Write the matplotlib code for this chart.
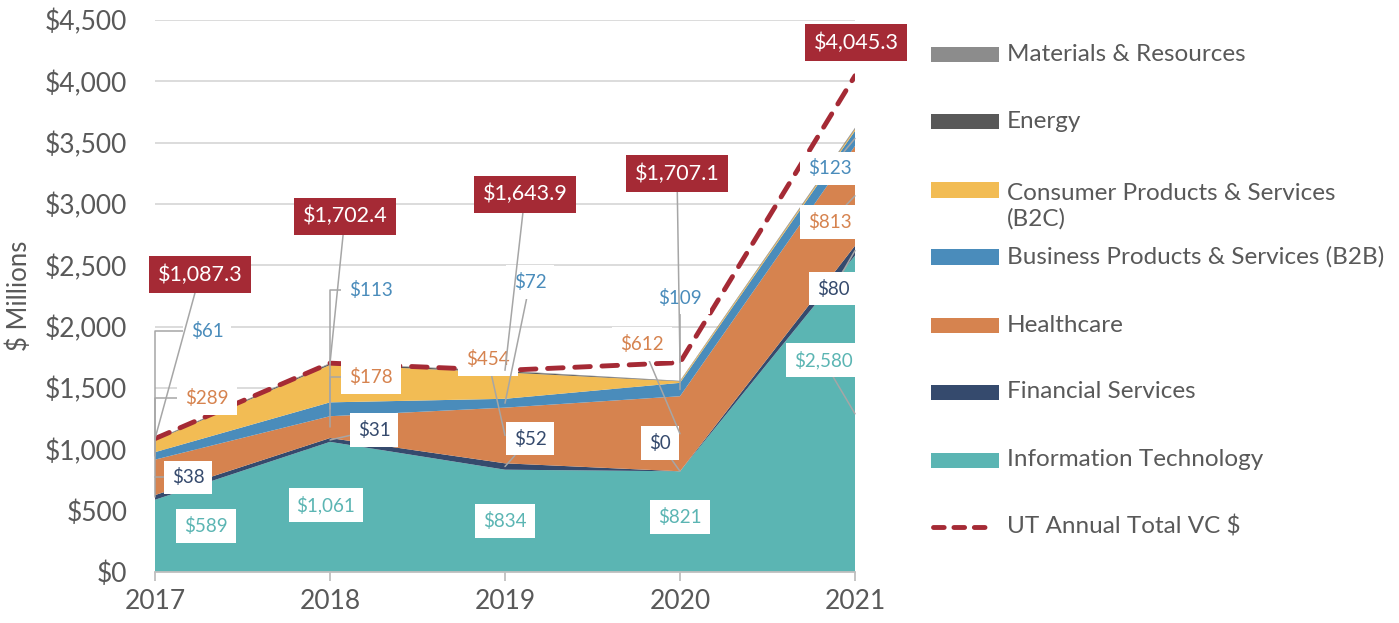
import matplotlib
matplotlib.use('Agg')
import matplotlib.pyplot as plt
from matplotlib.patches import Rectangle
from matplotlib.lines import Line2D

plt.rcParams['font.family'] = ['Lato', 'DejaVu Sans']

years = [2017, 2018, 2019, 2020, 2021]
info_tech = [589, 1061, 834, 821, 2580]
financial = [38, 31, 52, 0, 80]
healthcare = [289, 178, 454, 612, 813]
b2b = [61, 113, 72, 109, 123]
b2c = [95, 305, 215, 12, 15]
energy = [5, 10, 10, 3, 6]
materials = [3, 5, 4, 2, 5]
annual_total = [1087.3, 1702.4, 1643.9, 1707.1, 4045.3]

names = ['Information Technology', 'Financial Services', 'Healthcare',
         'Business Products & Services (B2B)',
         'Consumer Products & Services\n(B2C)', 'Energy', 'Materials & Resources']
colors = ['#5BB5B3', '#354A6D', '#D6834F', '#4A8CBB', '#F2BC54', '#595959', '#8C8C8C']
RED = '#A52A35'
GRAY_TXT = '#595959'
LEADER = '#A6A6A6'

W, H = 1399, 623
fig = plt.figure(figsize=(W / 100, H / 100), dpi=100)
ax = fig.add_axes([155 / W, 1 - 572 / H, 700 / W, 552 / H])

stack = [info_tech, financial, healthcare, b2b, b2c, energy, materials]
ax.stackplot(years, *stack, colors=colors, lw=0, zorder=2)
ax.plot(years, annual_total, color=RED, lw=3.5, ls=(0, (3.2, 2.4)),
        dash_capstyle='round', zorder=3)

ax.set_xlim(2017, 2021)
ax.set_ylim(0, 4500)
ax.set_xticks(years)
ax.set_yticks(range(0, 4501, 500))
ax.yaxis.set_major_formatter(lambda v, p: f'${v:,.0f}')
ax.grid(axis='y', color='#D9D9D9', lw=1.3)
ax.set_axisbelow(True)
for s in ['top', 'right', 'left']:
    ax.spines[s].set_visible(False)
ax.spines['bottom'].set_color('#BFBFBF')
ax.spines['bottom'].set_linewidth(1.3)
ax.tick_params(axis='y', length=0, labelsize=19, labelcolor=GRAY_TXT, pad=20)
ax.tick_params(axis='x', length=6.5, width=1.3, color='#BFBFBF', labelsize=19,
               labelcolor=GRAY_TXT, pad=6)
ax.set_ylabel('$ Millions', fontsize=18.5, color=GRAY_TXT)
ax.yaxis.set_label_coords(-0.175, 0.5)

# label offsets in pixels from the middle of each layer: (dx, dy, leader, elbow)
label_offsets = [
    [(51, 10, False, False), (-4, 2, False, False), (0, 0, False, False),
     (0, 5, False, False), (-32, 54, True, False)],
    [(33, 20, True, True), (44, 10, True, False), (25, 28, True, False),
     (-20, 28, True, False), (-22, -38, True, False)],
    [(52, 79, True, True), (41, 50, True, True), (-17, 76, True, False),
     (-38, 90, True, False), (-25, -26, True, False)],
    [(52, 125, True, True), (41, 119, True, True), (25, 121, True, False),
     (0, 92, True, False), (-25, -30, True, False)],
]

base = [0] * len(years)
for k, vals in enumerate(stack[:4]):
    for i, v in enumerate(vals):
        dx, dy, leader, elbow = label_offsets[k][i]
        arrow = None
        if leader:
            arrow = dict(arrowstyle='-', color=LEADER, lw=1.1, shrinkA=0, shrinkB=0,
                         connectionstyle='angle,angleA=0,angleB=90,rad=0' if elbow else 'arc3')
        ax.annotate(f'${v:,.0f}', xy=(years[i], base[i] + v / 2), xytext=(dx, dy),
                    textcoords='offset pixels', ha='center', va='center', fontsize=13.5,
                    color=colors[k], annotation_clip=False, zorder=6,
                    bbox=dict(boxstyle='square,pad=0.42', fc='white', ec='none'),
                    arrowprops=arrow)
    base = [b + v for b, v in zip(base, vals)]

total_offsets = [(45, 164, True), (15, 147, True), (20, 176, True), (-3, 189, True), (1, 33, False)]
for i, t in enumerate(annual_total):
    dx, dy, leader = total_offsets[i]
    arrow = dict(arrowstyle='-', color=LEADER, lw=1.1, shrinkA=0, shrinkB=0) if leader else None
    ax.annotate(f'${t:,.1f}', xy=(years[i], t), xytext=(dx, dy), textcoords='offset pixels',
                ha='center', va='center', fontsize=15.5, color='white',
                annotation_clip=False, zorder=7,
                bbox=dict(boxstyle='square,pad=0.38', fc=RED, ec='none'),
                arrowprops=arrow)

# legend (stack order, pixel rows)
patch_y = [460, 392, 325, 257, 190, 122, 54.5]
text_y = [460, 392, 325, 257, 206.5, 122, 54.5]
for k in range(7):
    fig.patches.append(Rectangle((931 / W, 1 - (patch_y[k] + 7.5) / H), 68 / W, 15 / H,
                                 transform=fig.transFigure, fc=colors[k], ec='none'))
    fig.text(1007 / W, 1 - text_y[k] / H, names[k], fontsize=17.5, color=GRAY_TXT,
             ha='left', va='center', linespacing=1.25)
fig.add_artist(Line2D([933 / W, 994 / W], [1 - 527 / H, 1 - 527 / H], color=RED, lw=3.5,
                      ls=(0, (2.2, 2.0)), dash_capstyle='round', transform=fig.transFigure))
fig.text(1007 / W, 1 - 527 / H, 'UT Annual Total VC $', fontsize=17.5, color=GRAY_TXT,
         ha='left', va='center')

fig.savefig('out.png', dpi=100)
